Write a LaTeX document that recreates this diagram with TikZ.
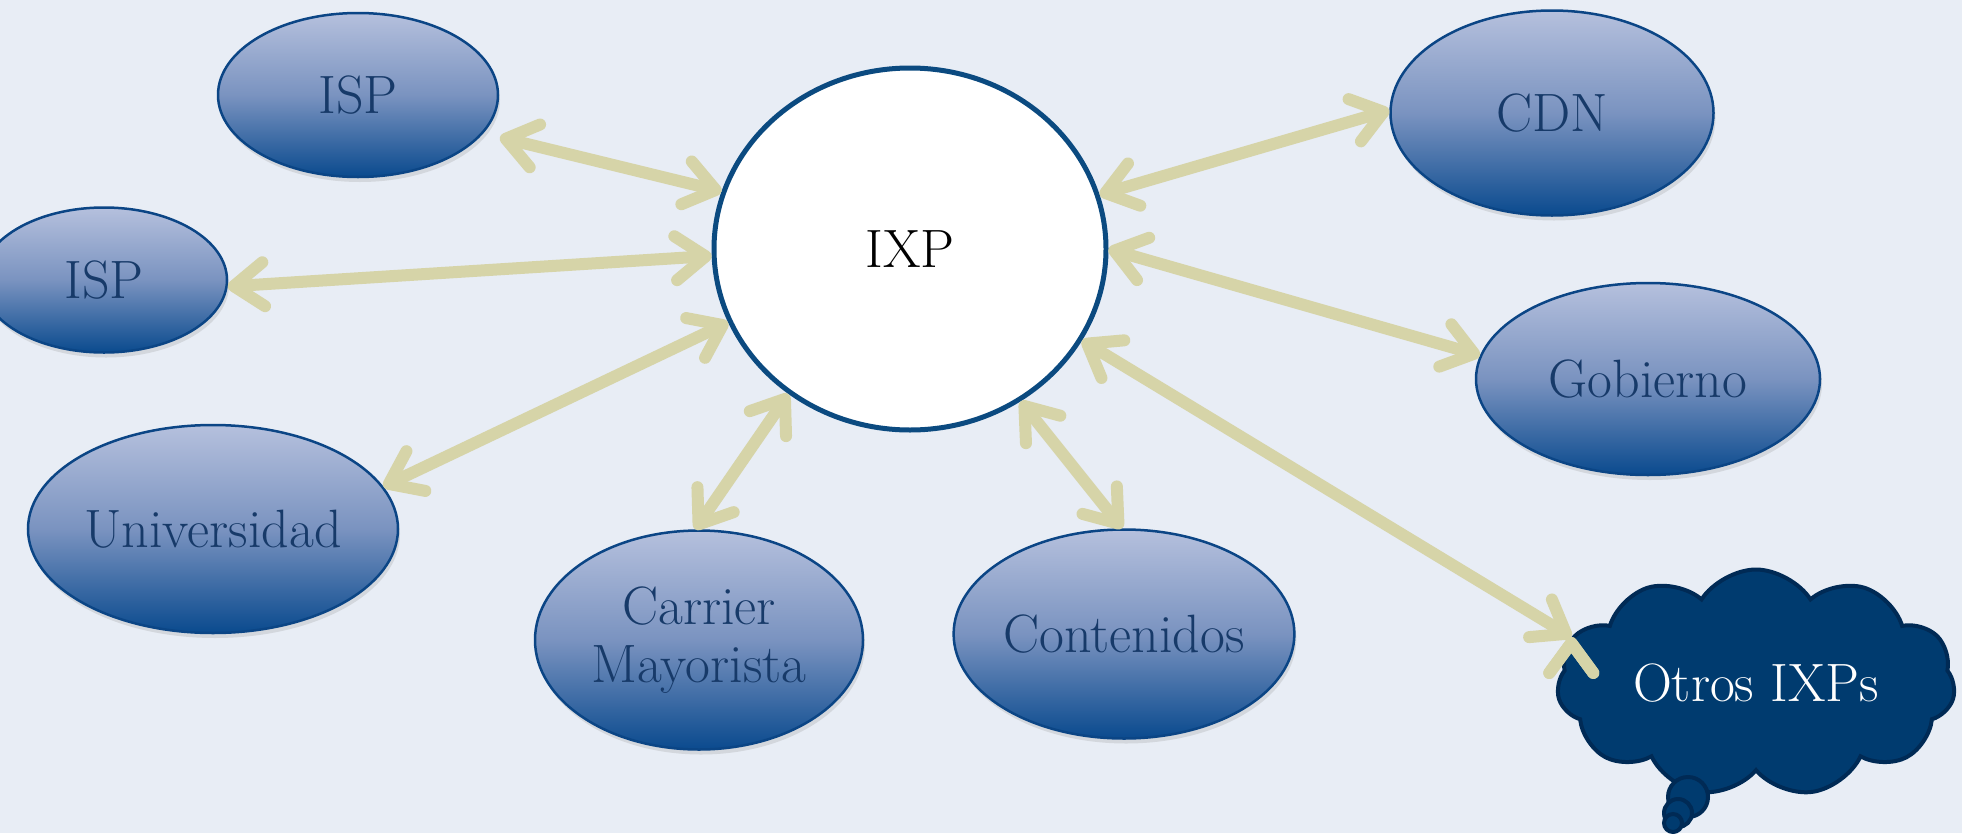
\documentclass[tikz,border=0pt]{standalone}
\usetikzlibrary{arrows.meta,shapes.geometric,shapes.symbols,shadows}
\definecolor{paper}{HTML}{E8EDF5}
\definecolor{nodetop}{HTML}{B5C0DD}
\definecolor{nodemid}{HTML}{7A93C0}
\definecolor{nodebot}{HTML}{0A4A8E}
\definecolor{nodeline}{HTML}{0B4585}
\definecolor{nodetext}{HTML}{173A69}
\definecolor{hubline}{HTML}{0B4A80}
\definecolor{linkcol}{HTML}{D6D4A8}
\definecolor{cloudfill}{HTML}{003B6F}
\definecolor{cloudline}{HTML}{002A55}

\begin{document}
\begin{tikzpicture}[x=1pt,y=-1pt,
    every node/.style={font=\fontsize{54}{58}\selectfont},
    party/.style={ellipse, draw=nodeline, line width=2.5pt, top color=nodetop,
      bottom color=nodebot, middle color=nodemid, text=nodetext, inner sep=0pt,
      drop shadow={opacity=0.2, shadow xshift=2pt, shadow yshift=-5pt}},
    hub/.style={ellipse, draw=hubline, line width=5pt, fill=white, inner sep=0pt},
    puff/.style={fill=cloudfill, draw=cloudline, line width=4pt},
    link/.style={draw=linkcol, line width=12pt,
      >={Straight Barb[length=30pt,width=44pt,round]}, <->}]
  \useasboundingbox (0,0) rectangle (1962,833);
  \clip (0,0) rectangle (1962,833);
  \fill[paper] (0,0) rectangle (1962,833);

  % central exchange
  \node[hub, minimum width=392pt, minimum height=362pt] (ixp) at (910,249) {IXP};

  % members
  \node[party, minimum width=280pt, minimum height=164pt] (isp1) at (358,95) {ISP};
  \node[party, minimum width=246pt, minimum height=145pt] (isp2) at (104,280) {ISP};
  \node[party, minimum width=370pt, minimum height=208pt] (uni) at (213,529) {Universidad};
  \node[party, minimum width=328pt, minimum height=219pt, align=center] (carrier) at (699,640) {Carrier\\Mayorista};
  \node[party, minimum width=340pt, minimum height=209pt] (cont) at (1124,634) {Contenidos};
  \node[party, minimum width=323pt, minimum height=205pt] (cdn) at (1552,113) {CDN};
  \node[party, minimum width=344pt, minimum height=192pt] (gob) at (1648,379) {Gobierno};

  % other exchanges
  \node[puff, cloud, cloud puffs=11, cloud puff arc=115, cloud ignores aspect,
    minimum width=398pt, minimum height=227pt, text=white] (otros) at (1756,683) {Otros IXPs};
  \node[puff, circle, minimum size=40pt, inner sep=0pt] (bub1) at (1688,797) {};
  \node[puff, circle, minimum size=28pt, inner sep=0pt] (bub2) at (1678,813) {};
  \node[puff, circle, minimum size=18pt, inner sep=0pt] (bub3) at (1673,823) {};

  \path[link]
    (isp1.343) edge[shorten <=17pt] (ixp.163)
    (isp2.357) edge (ixp.182)
    (uni.14) edge (ixp.202)
    (carrier.92) edge (ixp.230)
    (cont.91) edge (ixp.306)
    (cdn.179) edge (ixp.16)
    (gob.172) edge (ixp.0)
    (otros.166) edge (ixp.332);
\end{tikzpicture}
\end{document}
